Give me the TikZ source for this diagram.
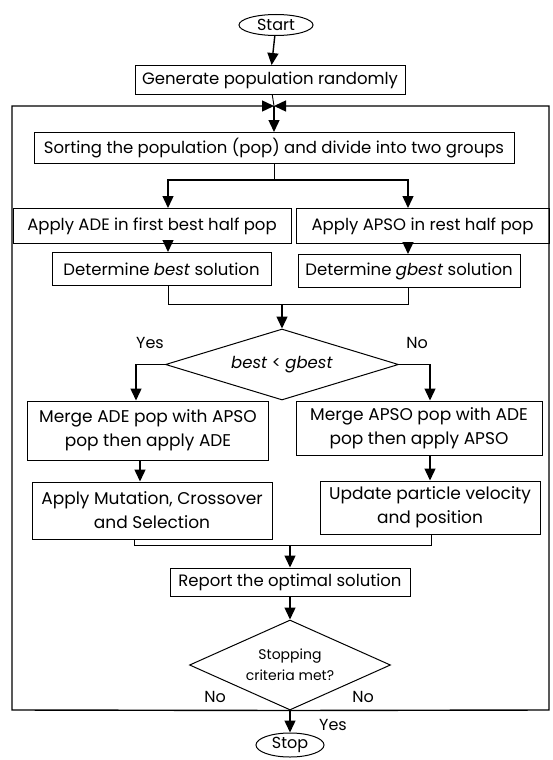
\documentclass[tikz,border=0pt]{standalone}
\usepackage{fontspec}
\setmainfont{Poppins}
\usetikzlibrary{shapes.geometric,arrows.meta,positioning}

\begin{document}
\begin{tikzpicture}[x=1pt,y=-1pt,
    procbox/.style={draw, line width=1pt, rectangle, inner sep=2pt, align=center, font=\fontsize{16.5}{19}\selectfont},
    twoline/.style={font=\fontsize{17}{24}\selectfont},
    termnode/.style={draw, line width=1pt, ellipse, inner sep=0pt, font=\fontsize{16}{18}\selectfont},
    decnode/.style={draw, line width=1pt, diamond, inner sep=0pt, align=center},
    flowarrow/.style={line width=1.4pt, -{Triangle[length=12pt,width=11pt]}},
    thinline/.style={line width=0.9pt},
    lbl/.style={font=\fontsize{16}{18}\selectfont}]
    \useasboundingbox (0,0) rectangle (552,760);

    % start / init
    \node (start) [termnode, minimum width=74, minimum height=21] at (276,25) {Start};
    \node (gen) [procbox, minimum width=270, minimum height=29] at (270,80) {Generate population randomly};
    \coordinate (junc) at (274,106);
    % sorting and split
    \node (sort) [procbox, minimum width=480, minimum height=31] at (274,148) {Sorting the population (pop) and divide into two groups};
    \coordinate (split) at (274,180);
    \coordinate (splitL) at (168,180);
    \coordinate (splitR) at (408,180);
    % two halves
    \node (ade) [procbox, minimum width=278, minimum height=35] at (152,226) {Apply ADE in first best half pop};
    \node (apso) [procbox, minimum width=253, minimum height=35] at (422.5,226) {Apply APSO in rest half pop};
    \node (best) [procbox, minimum width=219, minimum height=33] at (161.5,269) {Determine \textit{best} solution};
    \node (gbest) [procbox, minimum width=222, minimum height=33] at (409,271) {Determine \textit{gbest} solution};
    \coordinate (joinA) at (282,304);
    % comparison
    \node (cmp) [decnode, aspect=3.3, minimum width=233, minimum height=71, font=\fontsize{16.5}{19}\selectfont] at (282,364.5) {\textit{best} < \textit{gbest}};
    \node (yesA) [lbl] at (150,343) {Yes};
    \node (noA) [lbl] at (417,343) {No};
    \coordinate (cmpL) at (136,364.5);
    \coordinate (cmpR) at (430,364.5);
    % merged branches
    \node (mergeade) [procbox, twoline, minimum width=241, minimum height=59] at (148,430.5) {Merge ADE pop with APSO\\pop then apply ADE};
    \node (mergeapso) [procbox, twoline, minimum width=246, minimum height=54] at (419,428) {Merge APSO pop with ADE\\pop then apply APSO};
    \node (mut) [procbox, twoline, minimum width=240, minimum height=57] at (152,510.5) {Apply Mutation, Crossover\\and Selection};
    \node (upd) [procbox, twoline, minimum width=220, minimum height=53] at (430,507.5) {Update particle velocity\\and position};
    \coordinate (joinL) at (134,545);
    \coordinate (joinR) at (431,545);
    \coordinate (joinB) at (290,545);
    % report and stop check
    \node (report) [procbox, minimum width=240, minimum height=28] at (290,582) {Report the optimal solution};
    \node (chk) [decnode, aspect=2.2, minimum width=201, minimum height=90, font=\fontsize{14}{21}\selectfont] at (290,665) {Stopping\\criteria met?};
    \node (noL) [lbl] at (215,697) {No};
    \node (noR) [lbl] at (363,697) {No};
    \node (yesB) [lbl] at (333,725) {Yes};
    \node (stop) [termnode, minimum width=68, minimum height=24] at (290,745) {Stop};
    % loop frame
    \coordinate (loopTL) at (12,106);
    \coordinate (loopBL) at (12,710);
    \coordinate (loopTR) at (549,106);
    \coordinate (loopBR) at (549,710);

    \draw[flowarrow] (start) -- (gen);
    \draw[thinline] (gen) -- (junc);
    \draw[flowarrow] (junc) -- (sort);
    \draw[thinline] (sort) -- (split);
    \draw[flowarrow] (split) -- (splitL) -- (splitL |- ade.north);
    \draw[flowarrow] (split) -- (splitR) -- (splitR |- apso.north);
    \draw[flowarrow] (splitL |- ade.south) -- (splitL |- best.north);
    \draw[flowarrow] (splitR |- apso.south) -- (splitR |- gbest.north);
    \draw[thinline] (splitL |- best.south) -- (splitL |- joinA) -- (splitR |- joinA) -- (splitR |- gbest.south);
    \draw[flowarrow] (joinA) -- (cmp.north);
    \draw[flowarrow] (cmp.west) -- (cmpL) -- (cmpL |- mergeade.north);
    \draw[flowarrow] (cmp.east) -- (cmpR) -- (cmpR |- mergeapso.north);
    \draw[flowarrow] (140,0 |- mergeade.south) -- (140,0 |- mut.north);
    \draw[flowarrow] (upd.north |- mergeapso.south) -- (upd.north);
    \draw[thinline] (joinL |- mut.south) -- (joinL) -- (joinR) -- (joinR |- upd.south);
    \draw[flowarrow] (joinB) -- (report);
    \draw[flowarrow] (report) -- (chk);
    \draw[flowarrow] (chk.south) -- (stop);
    \draw[flowarrow] (chk.south) -- (loopBL) -- (loopTL) -- (junc);
    \draw[flowarrow] (chk.south) -- (loopBR) -- (loopTR) -- (junc);
\end{tikzpicture}
\end{document}
